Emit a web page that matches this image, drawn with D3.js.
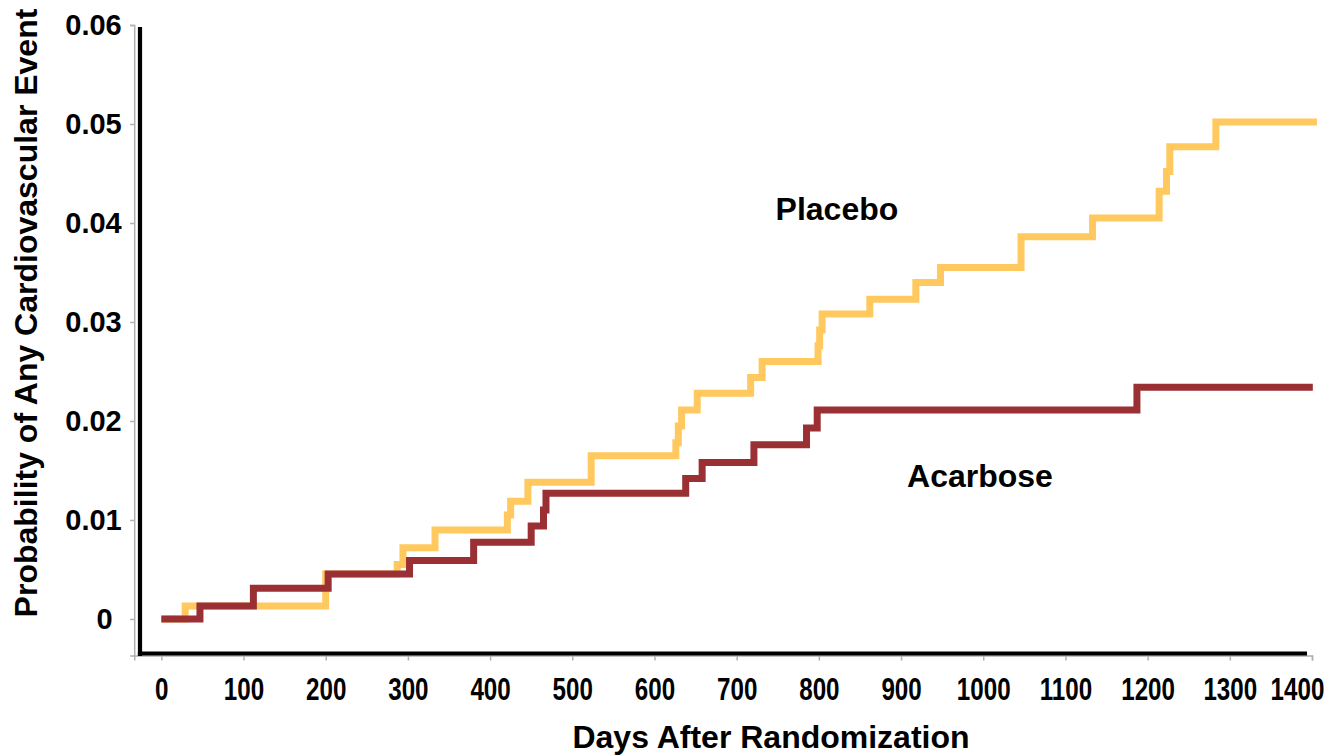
<!DOCTYPE html>
<html>
<head>
<meta charset="utf-8">
<script src="https://cdn.jsdelivr.net/npm/d3@7"></script>
<style>
  html, body { margin: 0; padding: 0; background: #fff; }
  svg { display: block; }
  text { font-family: "Liberation Sans", Arial, Helvetica, sans-serif; font-weight: bold; fill: #000; }
</style>
</head>
<body>
<svg id="chart" width="1331" height="756"></svg>
<script>
// ---- data ----
const placeboDays = [0, 29, 200, 287, 294, 333, 421, 425, 446, 523, 626, 629, 633, 652, 717, 731, 799, 801, 804, 862, 918, 948, 1046, 1133, 1214, 1223, 1227, 1283, 1406];
const placeboProb = [0, 0.0013, 0.00455, 0.0055, 0.0072, 0.0090, 0.0105, 0.0119, 0.0138, 0.0165, 0.0178, 0.0195, 0.0211, 0.0228, 0.0244, 0.0260, 0.0276, 0.0292, 0.0308, 0.0323, 0.0340, 0.0355, 0.0386, 0.0405, 0.0432, 0.0452, 0.0477, 0.0502, 0.0502];
const acarboseDays = [0, 47, 112, 203, 302, 380, 450, 465, 468, 638, 658, 721, 785, 798, 1187, 1401];
const acarboseProb = [0, 0.0013, 0.0031, 0.00455, 0.0059, 0.00775, 0.0094, 0.0110, 0.0127, 0.0142, 0.0158, 0.0176, 0.0193, 0.0211, 0.0234, 0.0234];
const xTicks = [0, 100, 200, 300, 400, 500, 600, 700, 800, 900, 1000, 1100, 1200, 1300, 1400];
const yTicks = [0, 0.01, 0.02, 0.03, 0.04, 0.05, 0.06];
const yTickLabels = ["0", "0.01", "0.02", "0.03", "0.04", "0.05", "0.06"];
const seriesNames = ["Placebo", "Acarbose"];
const seriesColors = ["#FFC95F", "#9B3034"];
const xTitle = "Days After Randomization";
const yTitle = "Probability of Any Cardiovascular Event";

// ---- scales ----
const svg = d3.select("#chart");
const x = d3.scaleLinear().domain([-33, 1400]).range([134.2, 1312]);
const y = d3.scaleLinear().domain([-0.0037, 0.06]).range([655.6, 25]);

// ---- thin grey axes ----
const gx = svg.append("g").attr("transform", `translate(0,${y(-0.0037)})`)
  .call(d3.axisBottom(x).tickValues(xTicks).tickSize(5).tickPadding(17).tickFormat(d3.format("d")));
const gy = svg.append("g").attr("transform", `translate(${x(-33)},0)`)
  .call(d3.axisLeft(y).tickValues(yTicks).tickSize(4).tickPadding(8.5)
    .tickFormat((d, i) => yTickLabels[i]));

[gx, gy].forEach(g => {
  g.select(".domain").attr("stroke", "#b0b0b0").attr("stroke-width", 1.5);
  g.selectAll(".tick line").attr("stroke", "#b0b0b0").attr("stroke-width", 1.5);
});
gx.selectAll(".tick text")
  .style("font-size", "31px").attr("fill", "#000")
  .attr("transform", d => d === 1400 ? "translate(-15,0) scale(0.78,1)" : "scale(0.78,1)");
gy.selectAll(".tick text").style("font-size", "29px").attr("fill", "#000")
  .attr("dx", d => d === 0 ? -9 : 0);

// ---- thick black axis lines ----
svg.append("line")
  .attr("x1", x(-33) + 5.8).attr("x2", x(-33) + 5.8)
  .attr("y1", y(0.06) + 2).attr("y2", y(-0.0037) + 0.5)
  .attr("stroke", "#000").attr("stroke-width", 4.2);
svg.append("line")
  .attr("x1", x(-33) + 3.7).attr("x2", x(1400) - 5)
  .attr("y1", y(-0.0037) - 2.2).attr("y2", y(-0.0037) - 2.2)
  .attr("stroke", "#000").attr("stroke-width", 4);

// ---- step curves ----
const line = d3.line().x(d => x(d[0])).y(d => y(d[1])).curve(d3.curveStepAfter);
const series = [
  d3.zip(placeboDays, placeboProb),
  d3.zip(acarboseDays, acarboseProb)
];
series.forEach((s, i) => {
  svg.append("path")
    .datum(s)
    .attr("d", line)
    .attr("fill", "none")
    .attr("stroke", seriesColors[i])
    .attr("stroke-width", 7)
    .attr("stroke-linejoin", "miter")
    .attr("stroke-linecap", "butt");
});

// ---- series labels ----
svg.append("text").attr("x", x(822)).attr("y", y(0.04035))
  .attr("text-anchor", "middle").style("font-size", "32px").text(seriesNames[0]);
svg.append("text").attr("x", x(996)).attr("y", y(0.01335))
  .attr("text-anchor", "middle").style("font-size", "32px").text(seriesNames[1]);

// ---- axis titles ----
svg.append("text").attr("x", 771).attr("y", 748)
  .attr("text-anchor", "middle").style("font-size", "32px").text(xTitle);
svg.append("text").attr("transform", "translate(37,313) rotate(-90)")
  .attr("text-anchor", "middle").style("font-size", "32px").text(yTitle);
</script>
</body>
</html>
